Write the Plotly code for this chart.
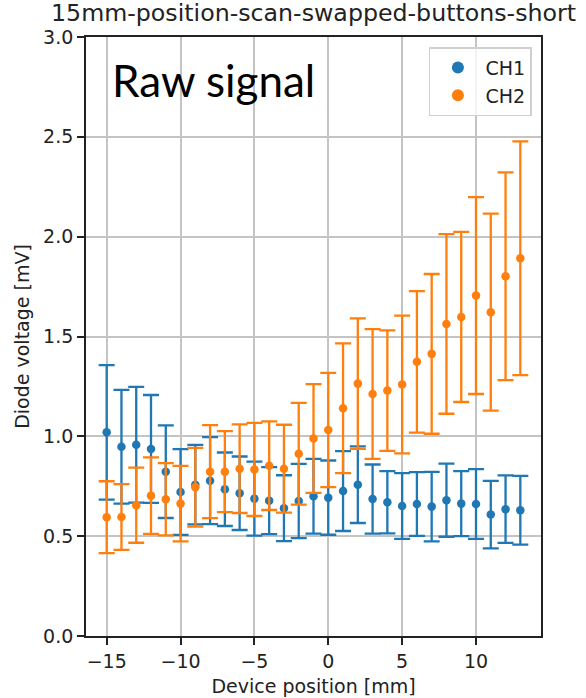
import plotly.graph_objects as go

# Device positions in mm
position = [-15, -14, -13, -12, -11, -10, -9, -8, -7, -6, -5, -4, -3, -2, -1,
            0, 1, 2, 3, 4, 5, 6, 7, 8, 9, 10, 11, 12, 13]

# Channel 1 mean diode voltage and its uncertainty (mV)
ch1_mean = [1.020, 0.948, 0.958, 0.937, 0.823, 0.721, 0.758, 0.778, 0.735, 0.715,
            0.688, 0.678, 0.640, 0.676, 0.700, 0.693, 0.726, 0.758, 0.686, 0.670,
            0.651, 0.661, 0.648, 0.680, 0.663, 0.661, 0.608, 0.635, 0.630]
ch1_err = [0.337, 0.285, 0.290, 0.270, 0.232, 0.215, 0.199, 0.218, 0.184, 0.184,
           0.185, 0.168, 0.165, 0.186, 0.187, 0.186, 0.200, 0.192, 0.173, 0.156,
           0.165, 0.160, 0.174, 0.183, 0.163, 0.175, 0.169, 0.169, 0.172]

# Channel 2 mean diode voltage and its uncertainty (mV)
ch2_mean = [0.595, 0.596, 0.655, 0.703, 0.685, 0.663, 0.745, 0.823, 0.823, 0.838,
            0.834, 0.853, 0.838, 0.913, 0.989, 1.032, 1.141, 1.264, 1.212, 1.229,
            1.260, 1.373, 1.413, 1.563, 1.598, 1.705, 1.622, 1.802, 1.892]
ch2_err = [0.180, 0.165, 0.188, 0.192, 0.181, 0.189, 0.197, 0.233, 0.203, 0.222,
           0.233, 0.222, 0.220, 0.255, 0.272, 0.286, 0.325, 0.327, 0.325, 0.302,
           0.345, 0.354, 0.400, 0.450, 0.426, 0.493, 0.493, 0.520, 0.585]

x_ticks = [-15, -10, -5, 0, 5, 10]
y_ticks = [0.0, 0.5, 1.0, 1.5, 2.0, 2.5, 3.0]

BLUE = "#1f77b4"
ORANGE = "#ff7f0e"
FONT = "DejaVu Sans"

fig = go.Figure()

for name, mean, err, color in [("CH1", ch1_mean, ch1_err, BLUE),
                               ("CH2", ch2_mean, ch2_err, ORANGE)]:
    fig.add_trace(go.Scatter(
        x=position, y=mean, name=name, mode="markers",
        marker=dict(color=color, size=8.5),
        error_y=dict(type="data", array=err, visible=True,
                     color=color, thickness=2.3, width=8),
    ))

fig.add_annotation(
    text="Raw signal", xref="paper", yref="paper",
    x=(110 - 86) / 455, y=(636 - 80) / 599,
    xanchor="left", yanchor="middle", showarrow=False,
    font=dict(family="Lato", size=44, color="black"),
)

axis_common = dict(
    showline=True, linecolor="#222222", linewidth=1.8, mirror=True,
    ticks="outside", ticklen=7, tickwidth=1.6, tickcolor="#222222",
    showgrid=True, gridcolor="#c4c4c4", gridwidth=1.6, zeroline=False,
    tickfont=dict(family=FONT, size=19, color="#222222"),
    automargin=False,
)

fig.update_layout(
    width=586, height=698,
    margin=dict(l=86, r=45, t=37, b=62),
    paper_bgcolor="white", plot_bgcolor="white",
    font=dict(family=FONT, color="#222222"),
    title=dict(text="15mm-position-scan-swapped-buttons-short",
               x=0.5, xref="paper", y=0.982, yref="container",
               xanchor="center", yanchor="middle",
               font=dict(family=FONT, size=23.7, color="#222222")),
    xaxis=dict(range=[-16.4, 14.4], tickvals=x_ticks,
               title=dict(text="Device position [mm]", standoff=9,
                          font=dict(family=FONT, size=19)),
               **axis_common),
    yaxis=dict(range=[0, 3.0], tickvals=y_ticks, tickformat=".1f",
               title=dict(text="Diode voltage [mV]", standoff=8,
                          font=dict(family=FONT, size=19)),
               **axis_common),
    legend=dict(x=0.98, y=0.983, xanchor="right", yanchor="top",
                bgcolor="rgba(255,255,255,0.8)", bordercolor="#d0d0d0",
                borderwidth=1.5, font=dict(family=FONT, size=19, color="#222222"),
                itemsizing="constant", itemwidth=45),
    showlegend=True,
)

fig.write_html("out.html")
